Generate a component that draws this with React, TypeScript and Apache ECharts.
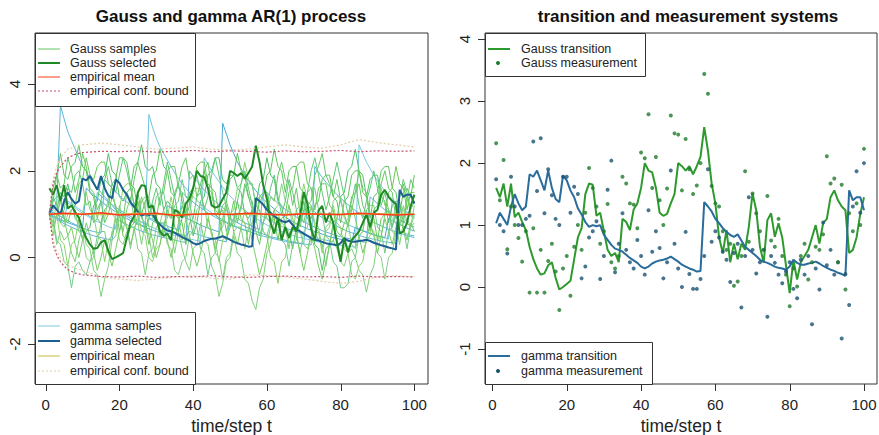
import React, { useEffect, useRef } from "react";
import * as echarts from "echarts";

// ---------- data ----------
const steps = Array.from({ length: 100 }, (_, i) => i + 1);
const boundSteps = [1, 2, 3, 4, 5, 6, 8, 10, 15, 20, 25, 30, 35, 40, 45, 50, 55, 60, 65, 70, 75, 80, 85, 90, 95, 100];
const meanSteps = [1, 5, 10, 15, 20, 25, 30, 35, 40, 45, 50, 55, 60, 65, 70, 75, 80, 85, 90, 95, 100];
const xTicks = [0, 20, 40, 60, 80, 100];
const yTicksLeft = [-2, 0, 2, 4];
const yTicksRight = [-1, 0, 1, 2, 3, 4];

const gaussTransition = [
  1.60, 1.45, 1.67, 1.30, 1.67, 1.13, 1.20, 1.05, 0.92, 0.65,
  0.45, 0.30, 0.20, 0.22, 0.35, 0.40, 0.15, -0.04, 0.00, 0.05,
  0.10, 0.45, 0.80, 0.95, 1.50, 1.67, 1.65, 1.15, 1.20, 0.90,
  0.60, 0.50, 0.55, 0.40, 1.10, 1.05, 0.92, 1.25, 1.35, 1.60,
  2.00, 1.88, 1.85, 1.60, 1.20, 1.15, 1.18, 1.35, 1.50, 2.00,
  1.95, 1.88, 1.95, 1.82, 1.95, 2.10, 2.58, 2.20, 1.67, 1.35,
  0.80, 0.55, 0.92, 0.40, 0.70, 0.45, 0.70, 0.60, 0.97, 1.51,
  1.24, 0.65, 0.39, 1.08, 1.19, 0.81, 1.03, 0.80, 0.35, -0.10,
  0.44, 0.12, 0.40, 0.50, 0.60, 0.80, 1.00, 0.70, 1.03, 1.10,
  1.45, 1.56, 1.40, 1.30, 1.24, 0.55, 0.60, 0.80, 1.18, 1.45,
];
const gammaTransition = [
  1.03, 1.20, 1.10, 1.00, 1.30, 1.50, 1.35, 1.24, 1.30, 1.82,
  1.78, 1.88, 1.72, 1.56, 1.88, 1.60, 1.42, 1.37, 1.80, 1.72,
  1.56, 1.45, 1.27, 1.17, 1.05, 0.97, 1.00, 0.98, 1.00, 0.84,
  0.76, 0.68, 0.62, 0.60, 0.57, 0.52, 0.47, 0.43, 0.39, 0.33,
  0.30, 0.33, 0.38, 0.41, 0.43, 0.44, 0.46, 0.49, 0.45, 0.41,
  0.36, 0.33, 0.30, 0.28, 0.25, 0.26, 1.37, 1.30, 1.22, 1.10,
  1.03, 0.95, 0.89, 0.84, 0.81, 0.85, 0.75, 0.65, 0.60, 0.55,
  0.50, 0.44, 0.41, 0.39, 0.36, 0.33, 0.31, 0.30, 0.28, 0.33,
  0.44, 0.39, 0.36, 0.36, 0.38, 0.39, 0.41, 0.38, 0.34, 0.31,
  0.28, 0.26, 0.23, 0.21, 0.18, 1.56, 1.40, 1.45, 1.45, 1.24,
];
const gaussMeasurement = [
  2.32, 1.40, 2.05, 0.61, 1.30, 1.00, 0.79, 0.41, 0.90, -0.09,
  0.95, -0.09, 0.60, -0.09, 0.42, 0.70, 0.25, -0.37, 0.30, 0.50,
  -0.14, 0.65, 1.00, 0.60, 1.20, 1.92, 1.60, 1.30, 0.70, 0.90,
  1.34, 0.40, 0.30, 0.50, 1.78, 1.67, 1.35, 1.33, 0.95, 2.17,
  2.08, 2.79, 1.60, 2.10, 1.40, 1.00, 1.59, 2.77, 2.48, 2.46,
  1.56, 2.39, 1.90, 1.50, 1.64, 2.00, 3.44, 3.12, 1.63, 1.35,
  1.30, 0.90, 0.60, 0.70, 0.02, 0.09, 0.50, 1.87, 0.73, 1.51,
  1.19, 0.90, 0.60, 1.47, 0.75, 0.65, 1.10, 0.50, 0.20, -0.31,
  0.30, 0.01, 0.50, 0.70, 0.12, 0.40, 0.65, 0.60, 0.85, 2.11,
  1.67, 1.75, 0.40, 1.65, -0.04, 1.19, 0.90, 1.35, 1.00, 2.23,
];
const gammaMeasurement = [
  1.74, 1.00, 0.90, 0.54, 1.78, 1.30, 1.00, 1.00, 1.10, 1.15,
  2.35, 1.55, 2.40, 1.19, 1.90, 1.48, 1.10, 1.00, 1.78, 1.78,
  1.20, 1.62, 1.50, 0.14, 0.33, 0.80, 0.90, 1.06, 0.13, 0.50,
  1.57, 2.04, 0.24, 0.70, 1.19, 0.60, 0.40, 0.30, 0.76, 0.50,
  0.20, 1.24, 0.57, 0.90, 0.63, 0.14, 0.40, 1.88, 0.70, 0.30,
  0.00, 0.89, 0.21, -0.03, -0.03, 0.13, 0.50, 1.90, 0.73, 0.90,
  0.80, 0.57, 0.44, 0.08, 0.55, 0.70, -0.33, 0.50, 1.45, 0.60,
  0.22, 0.40, 0.60, -0.48, 0.50, 0.39, 0.20, 0.06, 0.25, 0.40,
  -0.03, -0.18, 0.44, 0.20, 0.50, -0.60, 0.30, -0.04, 1.04, 0.35,
  0.60, 0.20, 0.40, -0.83, 0.21, -0.29, 1.30, 1.87, 1.20, 2.00,
];

const gaussSample1 = [
  1.0, 1.3, 1.9, 1.6, 1.7, 2.3, 2.0, 1.5, 1.8, 2.4, 2.1, 1.6, 1.5, 1.1, 1.3, 0.8, 1.0, 1.4, 1.2, 0.6,
  0.9, 1.5, 1.3, 1.8, 2.2, 1.9, 1.6, 1.0, 1.2, 0.9, 0.5, 0.7, 1.1, 0.9, 1.5, 1.7, 2.1, 2.3, 1.8, 1.9,
  1.4, 1.7, 2.0, 2.2, 1.6, 1.5, 1.0, 1.1, 0.6, 0.9, 1.3, 0.8, 1.2, 1.7, 1.4, 1.1, 0.6, 0.3, 0.8, 1.0,
  1.4, 1.3, 1.9, 2.2, 1.8, 1.7, 1.2, 1.6, 1.0, 0.8, 1.2, 1.3, 1.9, 2.1, 2.4, 1.9, 1.7, 1.4, 1.8, 1.3,
  1.0, 0.7, 1.1, 1.5, 1.7, 1.2, 1.0, 0.6, 1.1, 1.2, 1.7, 2.0, 1.6, 1.5, 0.9, 1.4, 1.7, 1.3, 1.8, 1.6,
];
const gaussSample2 = [
  1.0, 0.8, 0.3, 0.6, 0.4, 0.5, 0.1, -0.1, 0.4, 0.7, 0.3, 0.2, -0.3, -0.4, -0.9, -0.5, -0.2, 0.4, 0.5, 1.0,
  0.6, 1.1, 1.4, 0.9, 0.8, 0.3, 0.8, 0.5, 0.0, 0.3, 0.8, 1.1, 0.7, 0.6, 0.1, 0.6, 0.2, -0.1, -0.3, 0.2,
  0.3, 0.8, 0.4, 0.3, -0.2, -0.4, -0.9, -0.6, -0.1, 0.0, 0.5, 0.1, 0.0, -0.5, -0.6, -1.0, -1.2, -0.7, -0.5, 0.1,
  0.3, 0.9, 1.0, 0.8, 0.7, 0.2, 0.7, 0.8, 0.6, 0.3, 0.2, 0.5, 0.6, 0.4, 0.3, -0.2, 0.3, 0.4, 0.2, -0.1,
  -0.2, 0.1, 0.2, 0.0, -0.3, -0.4, -0.8, -0.4, -0.2, 0.4, 0.5, 1.0, 1.1, 0.9, 0.8, 0.3, 0.8, 0.9, 0.7, 1.2,
];
const gaussSample3 = [
  1.0, 1.2, 1.1, 1.5, 1.4, 1.7, 1.3, 0.9, 0.8, 0.4, 0.6, 0.7, 1.2, 1.3, 1.8, 1.9, 2.4, 2.0, 1.9, 1.4,
  1.3, 1.5, 1.6, 2.1, 2.2, 2.6, 2.1, 2.0, 2.1, 1.7, 1.6, 1.1, 1.3, 1.2, 0.7, 0.6, 0.9, 1.0, 1.0, 0.5,
  0.8, 1.3, 1.4, 1.9, 2.0, 2.3, 2.3, 1.8, 1.7, 1.9, 1.9, 1.6, 1.5, 1.0, 0.9, 1.1, 1.2, 1.7, 1.8, 2.3,
  1.9, 1.8, 1.3, 1.2, 0.7, 0.6, 0.2, 0.7, 0.8, 1.3, 0.9, 0.8, 0.3, 0.2, -0.3, 0.2, 0.3, 0.8, 0.9, 1.4,
  1.5, 2.0, 2.1, 2.5, 2.0, 1.9, 1.4, 1.8, 1.9, 1.9, 1.4, 1.3, 0.8, 1.2, 1.3, 1.3, 0.8, 1.3, 1.4, 1.4,
];
const gaussSample4 = [
  1.0, 0.5, 1.0, 0.4, 0.3, -0.2, 0.3, 0.4, 0.9, 1.0, 1.5, 1.1, 1.0, 0.5, 0.4, -0.1, 0.4, 0.5, 1.0, 1.1,
  1.6, 1.7, 1.7, 1.2, 1.1, 0.6, 0.5, 0.0, -0.1, 0.2, 0.3, 0.8, 0.9, 1.4, 1.0, 0.9, 0.4, 0.9, 1.0, 1.5,
  1.6, 1.6, 1.1, 1.0, 0.5, 0.4, -0.1, 0.4, 0.5, 1.0, 1.1, 1.6, 1.7, 2.2, 1.8, 1.7, 1.2, 1.1, 0.6, 0.5,
  0.0, -0.1, -0.6, -0.1, 0.0, 0.5, 0.6, 1.1, 1.2, 1.7, 1.3, 1.2, 0.7, 0.6, 0.1, 0.6, 0.7, 1.2, 0.8, 0.7,
  0.2, 0.1, -0.4, -0.5, -0.2, -0.1, 0.4, 0.5, 1.0, 1.1, 1.6, 1.2, 1.1, 0.6, 0.5, 0.8, 0.9, 1.4, 1.0, 0.9,
];
const gaussSample5 = [
  1.0, 1.6, 1.9, 2.4, 1.9, 1.8, 2.1, 2.2, 2.6, 2.1, 2.0, 1.5, 1.4, 0.9, 0.8, 1.1, 1.2, 1.7, 1.8, 2.3,
  2.3, 2.2, 1.7, 1.6, 1.1, 1.0, 1.3, 1.4, 1.9, 2.0, 2.5, 2.1, 2.0, 1.5, 1.4, 0.9, 0.8, 0.3, 0.8, 0.9,
  1.4, 1.5, 2.0, 1.6, 1.5, 1.0, 0.9, 1.2, 1.3, 1.8, 1.9, 2.4, 2.0, 1.9, 1.4, 1.3, 0.8, 1.3, 1.4, 1.9,
  2.0, 2.5, 2.1, 2.0, 1.5, 2.0, 2.1, 2.1, 1.6, 1.5, 1.0, 0.9, 1.2, 1.3, 1.8, 1.9, 1.9, 1.4, 1.3, 0.8,
  1.3, 1.4, 1.9, 2.0, 2.0, 1.5, 1.4, 0.9, 1.4, 1.5, 2.0, 2.1, 2.1, 1.6, 1.5, 1.0, 1.5, 1.6, 1.4, 1.9,
];
const gaussSample6 = [
  1.0, 0.9, 0.4, 0.3, -0.1, -0.2, -0.7, -0.2, -0.1, -0.3, -0.4, -0.1, 0.0, 0.5, 0.6, 0.6, 0.1, 0.6, 0.7, 1.2,
  0.8, 0.7, 0.2, 0.7, 0.8, 1.3, 1.4, 1.4, 0.9, 1.4, 1.5, 1.5, 1.0, 0.9, 1.2, 1.3, 1.8, 1.4, 1.3, 0.8,
  0.7, 0.2, 0.1, -0.4, 0.0, 0.1, 0.6, 0.7, 1.2, 0.8, 0.7, 1.0, 1.1, 1.6, 1.7, 1.7, 1.2, 1.1, 0.6, 0.5,
  0.8, 0.9, 0.9, 0.4, 0.3, -0.2, 0.3, 0.4, 0.9, 1.0, 1.5, 1.6, 1.6, 1.1, 1.0, 0.5, 0.4, -0.1, -0.2, -0.7,
  -0.7, -0.6, -0.1, 0.0, 0.5, 0.6, 1.1, 1.2, 1.2, 0.7, 0.6, 0.1, 0.6, 0.7, 1.2, 0.8, 0.7, 0.2, 0.7, 0.8,
];
const gaussSample7 = [
  1.0, 1.3, 1.4, 1.4, 0.9, 0.8, 1.1, 1.2, 1.7, 1.8, 2.3, 1.9, 1.8, 2.1, 2.2, 2.2, 1.7, 1.6, 1.1, 1.0,
  0.5, 0.4, 0.7, 0.8, 1.3, 0.9, 0.8, 0.3, 0.8, 0.9, 1.4, 1.5, 2.0, 2.1, 2.1, 1.6, 1.5, 1.0, 1.5, 1.6,
  2.1, 2.2, 2.2, 1.7, 1.6, 1.1, 1.0, 0.5, 0.4, 0.7, 0.8, 1.3, 0.9, 0.8, 0.3, 0.8, 0.9, 1.4, 1.5, 1.5,
  1.0, 0.9, 0.4, 0.9, 1.0, 1.5, 1.6, 2.1, 2.2, 2.2, 1.7, 1.6, 1.1, 1.6, 1.7, 1.7, 1.2, 1.1, 0.6, 0.5,
  0.8, 0.9, 1.4, 1.5, 2.0, 1.6, 1.5, 1.0, 0.9, 0.4, 0.9, 1.0, 1.5, 1.6, 2.1, 1.7, 1.6, 1.1, 1.5, 1.5,
];
const gaussSample8 = [
  1.0, 0.8, 1.3, 0.8, 0.7, 1.0, 1.1, 1.1, 0.6, 0.5, 0.0, -0.1, 0.2, 0.3, 0.8, 0.9, 1.4, 1.0, 0.9, 0.4,
  0.3, 0.6, 0.7, 0.7, 0.2, 0.1, -0.4, 0.1, 0.2, 0.7, 0.8, 0.8, 0.3, 0.2, -0.3, -0.4, -0.1, 0.0, 0.5, 0.6,
  1.1, 1.2, 1.2, 0.7, 0.6, 0.1, 0.0, -0.5, 0.0, 0.1, 0.6, 0.7, 0.7, 0.2, 0.7, 0.8, 1.3, 1.4, 1.4, 0.9,
  0.8, 1.1, 1.2, 1.7, 1.3, 1.2, 0.7, 0.6, 0.1, 0.6, 0.7, 1.2, 0.8, 0.7, 0.2, 0.7, 0.8, 1.3, 1.4, 1.4,
  0.9, 0.8, 0.3, 0.2, 0.5, 0.6, 1.1, 0.7, 0.6, 0.1, 0.0, -0.5, 0.0, 0.1, 0.6, 0.7, 1.2, 0.8, 0.7, 1.0,
];
const gaussSample9 = [
  1.0, 1.4, 1.2, 0.8, 1.1, 1.6, 1.5, 1.9, 2.0, 1.7, 1.2, 1.3, 0.8, 0.9, 1.3, 1.8, 2.1, 1.7, 1.5, 1.9,
  2.3, 2.0, 1.6, 1.2, 1.5, 1.0, 0.6, 0.9, 1.3, 1.6, 1.2, 1.7, 2.2, 1.8, 1.4, 1.7, 1.3, 0.9, 1.2, 1.6,
  1.9, 1.5, 1.1, 1.4, 1.9, 2.3, 1.9, 1.5, 1.2, 0.7, 0.9, 1.3, 1.7, 2.0, 1.6, 1.2, 0.9, 0.5, 0.8, 1.2,
  1.6, 1.9, 1.4, 1.0, 1.3, 1.8, 1.5, 1.1, 0.7, 1.1, 1.5, 2.0, 2.3, 1.9, 1.5, 1.1, 1.4, 1.8, 2.2, 1.8,
  1.4, 1.0, 1.3, 1.7, 1.2, 0.9, 1.3, 1.6, 2.0, 1.6, 1.2, 1.5, 1.1, 0.7, 1.0, 1.4, 1.8, 1.5, 1.1, 1.3,
];
const gaussSample10 = [
  1.0, 0.7, 1.0, 1.3, 0.9, 0.5, 0.7, 0.3, 0.0, 0.4, 0.8, 0.5, 0.1, -0.3, 0.0, 0.4, 0.1, -0.2, 0.2, 0.6,
  1.0, 0.7, 0.3, 0.6, 1.0, 1.4, 1.1, 0.7, 0.4, 0.0, 0.3, 0.7, 0.4, 0.0, 0.4, 0.8, 1.2, 0.9, 0.5, 0.1,
  -0.2, 0.1, 0.5, 0.9, 0.6, 0.2, 0.5, 0.9, 1.3, 1.0, 0.6, 0.3, 0.7, 1.1, 0.8, 0.4, 0.0, -0.4, -0.1, 0.3,
  0.7, 1.1, 0.8, 0.4, 0.8, 1.2, 0.9, 0.5, 0.1, -0.3, 0.1, 0.5, 0.2, -0.2, -0.5, -0.1, 0.3, 0.7, 0.4, 0.0,
  0.4, 0.8, 1.2, 0.9, 0.5, 0.1, 0.4, 0.8, 0.5, 0.1, 0.5, 0.9, 0.6, 0.3, 0.7, 1.0, 0.7, 0.4, 0.8, 0.6,
];

const gammaSample1 = [
  1.00, 1.10, 1.30, 3.50, 3.20, 2.90, 2.70, 2.50, 2.30, 2.10, 2.00, 1.80, 1.70, 1.60, 1.50, 1.40, 1.30, 1.20, 1.10, 1.05,
  1.00, 0.95, 0.90, 0.85, 0.80, 0.75, 0.70, 0.90, 0.85, 0.80, 0.75, 0.70, 0.66, 0.62, 0.58, 0.55, 0.52, 0.49, 0.60, 0.57,
  0.54, 0.51, 0.48, 0.46, 0.44, 0.42, 0.40, 0.38, 0.36, 0.90, 0.85, 0.80, 0.76, 0.72, 0.68, 0.64, 0.60, 0.57, 0.54, 0.51,
  0.48, 0.46, 0.44, 0.42, 0.40, 0.38, 0.36, 0.34, 0.33, 0.32, 1.20, 1.12, 1.05, 0.98, 0.92, 0.87, 0.82, 0.77, 0.72, 0.68,
  0.64, 0.60, 0.57, 0.54, 0.51, 0.48, 0.46, 0.44, 0.42, 0.40, 0.38, 0.36, 0.35, 0.34, 0.33, 0.60, 0.57, 0.54, 0.51, 0.50,
];
const gammaSample2 = [
  1.00, 0.95, 0.90, 0.86, 0.82, 1.30, 1.24, 1.18, 1.12, 1.06, 1.00, 0.95, 0.90, 1.50, 1.42, 1.35, 1.28, 1.22, 1.16, 1.10,
  1.04, 0.99, 0.94, 0.90, 0.86, 0.82, 0.78, 3.30, 3.00, 2.75, 2.55, 2.40, 2.25, 2.10, 1.95, 1.82, 1.70, 1.60, 1.50, 1.40,
  1.32, 1.24, 1.16, 1.09, 1.03, 0.97, 0.92, 0.87, 0.82, 0.78, 0.74, 0.70, 0.66, 0.63, 0.60, 1.10, 1.04, 0.99, 0.94, 0.89,
  0.84, 0.80, 0.76, 0.72, 0.68, 0.65, 0.62, 0.59, 0.56, 0.53, 0.50, 0.48, 0.46, 0.44, 0.42, 0.40, 0.38, 0.36, 0.90, 0.85,
  0.80, 0.76, 0.72, 0.68, 0.64, 0.61, 0.58, 0.55, 0.52, 0.49, 0.47, 0.45, 0.43, 1.30, 1.22, 1.15, 1.08, 1.02, 0.96, 0.91,
];
const gammaSample3 = [
  1.00, 1.05, 1.00, 0.95, 0.90, 0.85, 0.80, 0.76, 0.72, 0.68, 1.60, 1.52, 1.44, 1.37, 1.30, 1.23, 1.17, 1.11, 1.05, 1.00,
  0.95, 0.90, 0.85, 0.81, 0.77, 0.73, 0.69, 0.66, 0.63, 0.60, 0.57, 0.54, 1.20, 1.14, 1.08, 1.02, 0.97, 0.92, 0.87, 0.83,
  0.79, 0.75, 0.71, 0.68, 0.65, 0.62, 0.59, 3.10, 2.85, 2.60, 2.40, 2.20, 2.05, 1.90, 1.77, 1.65, 1.54, 1.44, 1.35, 1.27,
  1.19, 1.12, 1.05, 0.99, 0.93, 0.88, 0.83, 0.78, 0.74, 0.70, 0.66, 0.63, 0.60, 0.57, 0.54, 0.51, 0.48, 0.46, 0.44, 0.42,
  0.40, 0.38, 0.36, 0.70, 0.66, 0.62, 0.59, 0.56, 0.53, 0.50, 0.48, 0.46, 0.90, 0.85, 0.80, 0.76, 0.72, 0.68, 0.64, 0.61,
];
const gammaSample4 = [
  1.00, 0.95, 0.90, 1.40, 1.33, 1.26, 1.20, 1.14, 1.08, 1.02, 0.97, 0.92, 0.87, 0.83, 0.79, 0.75, 0.71, 0.68, 0.65, 1.10,
  1.05, 1.00, 0.95, 0.90, 0.85, 0.81, 0.77, 0.73, 0.69, 0.66, 0.63, 0.60, 0.57, 0.54, 0.51, 0.49, 0.47, 0.45, 0.43, 0.41,
  0.39, 0.37, 2.30, 2.15, 2.00, 1.87, 1.75, 1.63, 1.52, 1.42, 1.33, 1.24, 1.16, 1.09, 1.02, 0.96, 0.90, 0.85, 0.80, 0.75,
  0.71, 0.67, 0.63, 0.60, 0.57, 0.54, 0.51, 0.48, 0.46, 0.44, 0.42, 0.40, 0.38, 0.36, 0.34, 0.32, 0.31, 0.30, 0.29, 0.28,
  0.27, 0.26, 0.25, 0.24, 2.60, 2.40, 2.20, 2.05, 1.90, 1.77, 1.65, 1.54, 1.44, 1.35, 1.27, 1.19, 1.12, 1.05, 0.99, 0.93,
];
const gammaSample5 = [
  1.00, 0.96, 0.92, 0.88, 0.84, 0.80, 0.77, 0.74, 0.71, 0.68, 0.65, 0.62, 0.60, 0.58, 0.56, 1.80, 1.70, 1.60, 1.51, 1.43,
  1.35, 1.28, 1.21, 1.15, 1.09, 1.03, 0.98, 0.93, 0.88, 0.84, 0.80, 0.76, 0.72, 0.69, 0.66, 0.63, 1.50, 1.42, 1.35, 1.28,
  1.21, 1.15, 1.09, 1.03, 0.98, 0.93, 0.88, 0.84, 0.80, 0.76, 0.72, 0.69, 0.66, 0.63, 0.60, 0.57, 0.54, 0.51, 0.49, 0.47,
  0.45, 0.43, 0.41, 0.39, 0.37, 0.35, 0.34, 0.33, 0.32, 0.31, 0.30, 0.29, 2.10, 1.97, 1.85, 1.74, 1.64, 1.54, 1.45, 1.37,
  1.29, 1.22, 1.15, 1.08, 1.02, 0.96, 0.91, 0.86, 0.81, 0.77, 0.73, 0.69, 0.65, 0.62, 0.59, 0.56, 0.53, 0.50, 0.48, 0.46,
];
const gammaSample6 = [
  1.00, 0.94, 0.88, 0.83, 0.78, 0.74, 0.70, 0.66, 0.62, 0.59, 0.56, 0.53, 0.50, 0.48, 0.46, 0.44, 0.42, 0.40, 0.90, 0.85,
  0.80, 0.76, 0.72, 0.68, 0.64, 0.61, 0.58, 0.55, 0.52, 0.50, 0.48, 0.46, 0.44, 0.42, 0.40, 0.38, 0.36, 0.35, 2.00, 1.88,
  1.77, 1.66, 1.56, 1.47, 1.38, 1.30, 1.22, 1.15, 1.08, 1.02, 0.96, 0.90, 0.85, 0.80, 0.76, 0.72, 0.68, 0.64, 1.60, 1.50,
  1.41, 1.33, 1.25, 1.18, 1.11, 1.05, 0.99, 0.93, 0.88, 0.83, 0.78, 0.74, 0.70, 0.66, 0.62, 0.59, 0.56, 0.53, 0.50, 0.48,
  0.46, 0.44, 0.42, 0.40, 0.38, 0.36, 0.35, 1.40, 1.32, 1.24, 1.17, 1.10, 1.04, 0.98, 0.92, 0.87, 0.82, 0.78, 0.74, 0.70,
];

const gaussMean = [1.0, 1.02, 1.0, 1.03, 0.98, 1.0, 1.02, 0.97, 1.0, 1.01, 0.99, 1.02, 1.0, 0.98, 1.01, 1.0, 0.99, 1.02, 1.0, 0.98, 1.0];
const gammaMean = [1.0, 1.01, 1.0, 0.99, 1.0, 1.02, 1.0, 0.99, 1.0, 1.01, 1.0, 1.0, 0.99, 1.0, 1.01, 1.0, 0.99, 1.0, 1.01, 1.0, 1.0];
const gaussUpper = [1.0, 1.7, 1.95, 2.1, 2.2, 2.3, 2.38, 2.42, 2.45, 2.44, 2.46, 2.43, 2.45, 2.47, 2.44, 2.46, 2.45, 2.43, 2.46, 2.44, 2.45, 2.47, 2.44, 2.46, 2.45, 2.46];
const gaussLower = [1.0, 0.3, 0.05, -0.1, -0.2, -0.28, -0.36, -0.4, -0.44, -0.45, -0.43, -0.46, -0.44, -0.45, -0.42, -0.45, -0.46, -0.44, -0.43, -0.45, -0.44, -0.46, -0.43, -0.45, -0.44, -0.45];
const gammaUpper = [1.0, 1.8, 2.1, 2.3, 2.4, 2.5, 2.55, 2.6, 2.64, 2.6, 2.55, 2.5, 2.52, 2.55, 2.5, 2.48, 2.5, 2.55, 2.6, 2.55, 2.52, 2.6, 2.72, 2.65, 2.6, 2.55];
const gammaLower = [1.0, 0.4, 0.15, 0.0, -0.1, -0.18, -0.25, -0.3, -0.45, -0.5, -0.53, -0.5, -0.45, -0.42, -0.48, -0.5, -0.4, -0.42, -0.45, -0.5, -0.55, -0.6, -0.55, -0.45, -0.42, -0.45];

const gaussSamples = [gaussSample1, gaussSample2, gaussSample3, gaussSample4, gaussSample5, gaussSample6, gaussSample7, gaussSample8, gaussSample9, gaussSample10];
const gammaSamples = [gammaSample1, gammaSample2, gammaSample3, gammaSample4, gammaSample5, gammaSample6];

const titles = ["Gauss and gamma AR(1) process", "transition and measurement systems"];
const xAxisTitle = "time/step t";
const legendLeftTop = ["Gauss samples", "Gauss selected", "empirical mean", "empirical conf. bound"];
const legendLeftBottom = ["gamma samples", "gamma selected", "empirical mean", "empirical conf. bound"];
const legendRightTop = ["Gauss transition", "Gauss measurement"];
const legendRightBottom = ["gamma transition", "gamma measurement"];

// ---------- styles ----------
const FONT = "'Liberation Sans', Arial, Helvetica, sans-serif";
const C = {
  gaussSamples: ["#66c766", "#7ed07a", "#4fbf6a", "#8bd36b", "#5cc45c", "#72cc8a", "#69c957", "#84d084", "#5ec878", "#78cc64"],
  gammaSamples: ["#5bb5d9", "#6cc2de", "#4aa8d0", "#7cc8e0", "#58b8d4", "#66b0dc"],
  gaussSel: "#1f8a25",
  gammaSel: "#1d5f92",
  gaussMean: "#ff3a1a",
  gammaMean: "#c9bd45",
  gaussBound: "#c0506e",
  gammaBound: "#e2cfa8",
  gaussTrans: "#2e9a2e",
  gammaTrans: "#2a6c9c",
  gaussMeas: "#1f7a2c",
  gammaMeas: "#1a5272",
  axis: "#333",
  text: "#222",
};

// axis ranges (R-style 4% padding)
const X_RANGE: [number, number][] = [[-2.9, 103.7], [-2, 103.5]];
const Y_RANGE: [number, number][] = [[-2.92, 5.18], [-1.565, 4.1]];
const Y_TICKS = [yTicksLeft, yTicksRight];
const TICK_LEN = 7;

const pair = (xs: number[], ys: number[]) => ys.map((v, i) => [xs[i], v]);

function buildLegendGraphics() {
  const g: any[] = [];
  const box = (x: number, y: number, w: number, h: number) =>
    g.push({
      type: "rect", shape: { x: x + 0.5, y: y + 0.5, width: w, height: h },
      style: { fill: "#fff", stroke: C.axis, lineWidth: 1 }, z: 100,
    });
  const lineItem = (x: number, y: number, color: string, width: number, dash?: number[]) =>
    g.push({
      type: "line", shape: { x1: x, y1: y, x2: x + 22, y2: y },
      style: { stroke: color, lineWidth: width, lineDash: dash || null }, z: 101,
    });
  const dotItem = (x: number, y: number, color: string) =>
    g.push({ type: "circle", shape: { cx: x, cy: y, r: 2 }, style: { fill: color }, z: 101 });
  const textItem = (x: number, y: number, text: string) =>
    g.push({
      type: "text", x, y,
      style: { text, fontSize: 12.5, fontFamily: FONT, fill: C.text, align: "left", verticalAlign: "middle" }, z: 101,
    });

  box(35, 33, 160, 73);
  const ltY = [49, 63, 77, 91];
  lineItem(38, ltY[0], C.gaussSamples[0], 1);
  lineItem(38, ltY[1], C.gaussSel, 2);
  lineItem(38, ltY[2], C.gaussMean, 1);
  lineItem(38, ltY[3], C.gaussBound, 1, [2, 2]);
  legendLeftTop.forEach((t, i) => textItem(70, ltY[i], t));

  box(35, 312, 160, 72);
  const lbY = [326, 341, 356, 371];
  lineItem(38, lbY[0], C.gammaSamples[3], 1);
  lineItem(38, lbY[1], C.gammaSel, 2);
  lineItem(38, lbY[2], C.gammaMean, 1);
  lineItem(38, lbY[3], C.gammaBound, 1, [2, 2]);
  legendLeftBottom.forEach((t, i) => textItem(70, lbY[i], t));

  box(485, 33, 160, 43);
  lineItem(488, 49, C.gaussTrans, 2);
  dotItem(498, 63, C.gaussMeas);
  legendRightTop.forEach((t, i) => textItem(521, [49, 63][i], t));

  box(485, 342, 167, 42);
  lineItem(488, 356, C.gammaTrans, 2);
  dotItem(498, 371, C.gammaMeas);
  legendRightBottom.forEach((t, i) => textItem(521, [356, 371][i], t));
  return g;
}

// outward R-style tick marks drawn through the axis scales
function tickSeries(g: number, dir: "x" | "y") {
  const data = dir === "x" ? xTicks.map((v) => [v, Y_RANGE[g][0]]) : Y_TICKS[g].map((v) => [X_RANGE[g][0], v]);
  return {
    type: "custom",
    xAxisIndex: g,
    yAxisIndex: g,
    data,
    silent: true,
    clip: false,
    z: 20,
    renderItem: (_params: any, api: any) => {
      const p = api.coord([api.value(0), api.value(1)]);
      if (dir === "x") {
        const x = Math.round(p[0]) + 0.5;
        return { type: "line", shape: { x1: x, y1: p[1], x2: x, y2: p[1] + TICK_LEN }, style: { stroke: C.axis, lineWidth: 1 } };
      }
      const y = Math.round(p[1]) + 0.5;
      return { type: "line", shape: { x1: p[0], y1: y, x2: p[0] - TICK_LEN, y2: y }, style: { stroke: C.axis, lineWidth: 1 } };
    },
  };
}

function buildOption() {
  const lineS = (data: number[][], color: string, width: number, extra: any = {}) => ({
    type: "line",
    xAxisIndex: 0,
    yAxisIndex: 0,
    data,
    symbol: "none",
    silent: true,
    lineStyle: { color, width, ...extra },
    z: 2,
  });

  const series: any[] = [];
  gammaSamples.forEach((s, i) => series.push(lineS(pair(steps, s), C.gammaSamples[i % C.gammaSamples.length], 1)));
  gaussSamples.forEach((s, i) => series.push(lineS(pair(steps, s), C.gaussSamples[i % C.gaussSamples.length], 1)));
  series.push(lineS(pair(steps, gammaTransition), C.gammaSel, 2));
  series.push(lineS(pair(steps, gaussTransition), C.gaussSel, 2));
  series.push(lineS(pair(meanSteps, gammaMean), C.gammaMean, 1.5));
  series.push(lineS(pair(meanSteps, gaussMean), C.gaussMean, 1.5));
  series.push(lineS(pair(boundSteps, gammaUpper), C.gammaBound, 1.2, { type: [2, 2] }));
  series.push(lineS(pair(boundSteps, gammaLower), C.gammaBound, 1.2, { type: [2, 2] }));
  series.push(lineS(pair(boundSteps, gaussUpper), C.gaussBound, 1.2, { type: [2, 2] }));
  series.push(lineS(pair(boundSteps, gaussLower), C.gaussBound, 1.2, { type: [2, 2] }));

  series.push({
    type: "line", xAxisIndex: 1, yAxisIndex: 1, data: pair(steps, gaussTransition), symbol: "none", silent: true,
    lineStyle: { color: C.gaussTrans, width: 2 }, z: 2,
  });
  series.push({
    type: "line", xAxisIndex: 1, yAxisIndex: 1, data: pair(steps, gammaTransition), symbol: "none", silent: true,
    lineStyle: { color: C.gammaTrans, width: 2 }, z: 2,
  });
  series.push({
    type: "scatter", xAxisIndex: 1, yAxisIndex: 1, data: pair(steps, gammaMeasurement), symbol: "circle", symbolSize: 4,
    silent: true, itemStyle: { color: C.gammaMeas }, z: 3,
  });
  series.push({
    type: "scatter", xAxisIndex: 1, yAxisIndex: 1, data: pair(steps, gaussMeasurement), symbol: "circle", symbolSize: 4,
    silent: true, itemStyle: { color: C.gaussMeas }, z: 3,
  });
  [0, 1].forEach((g) => {
    series.push(tickSeries(g, "x"));
    series.push(tickSeries(g, "y"));
  });

  const xAxisCommon = (gridIndex: number) => ({
    gridIndex,
    type: "value",
    position: "bottom",
    min: X_RANGE[gridIndex][0],
    max: X_RANGE[gridIndex][1],
    splitLine: { show: false },
    axisLine: { show: false, onZero: false },
    axisTick: { show: false },
    axisLabel: { customValues: xTicks, fontSize: 15, color: C.text, margin: 13, fontFamily: FONT },
    name: xAxisTitle,
    nameLocation: "middle",
    nameGap: 29,
    nameTextStyle: { fontSize: 17.5, color: C.text, fontFamily: FONT },
  });
  const yAxisCommon = (gridIndex: number) => ({
    gridIndex,
    type: "value",
    position: "left",
    min: Y_RANGE[gridIndex][0],
    max: Y_RANGE[gridIndex][1],
    splitLine: { show: false },
    axisLine: { show: false, onZero: false },
    axisTick: { show: false },
    axisLabel: { customValues: Y_TICKS[gridIndex], fontSize: 15, color: C.text, margin: 13, rotate: 90, fontFamily: FONT },
  });

  return {
    animation: false,
    backgroundColor: "#fff",
    textStyle: { fontFamily: FONT },
    title: [
      { text: titles[0], left: 231, top: 8, padding: 0, textAlign: "center", textStyle: { fontSize: 17, fontWeight: "bold", color: "#111", fontFamily: FONT } },
      { text: titles[1], left: 688, top: 8, padding: 0, textAlign: "center", textStyle: { fontSize: 17, fontWeight: "bold", color: "#111", fontFamily: FONT } },
    ],
    grid: [
      { left: 35, top: 33, width: 393, height: 351, show: true, borderColor: C.axis, borderWidth: 1, backgroundColor: "transparent", containLabel: false, outerBoundsMode: "none" },
      { left: 485, top: 33, width: 392, height: 351, show: true, borderColor: C.axis, borderWidth: 1, backgroundColor: "transparent", containLabel: false, outerBoundsMode: "none" },
    ],
    xAxis: [xAxisCommon(0), xAxisCommon(1)],
    yAxis: [yAxisCommon(0), yAxisCommon(1)],
    series,
    graphic: { elements: buildLegendGraphics() },
  };
}

export default function App() {
  const ref = useRef<HTMLDivElement>(null);
  useEffect(() => {
    if (!ref.current) return;
    const chart = echarts.init(ref.current, undefined, { renderer: "svg" });
    chart.setOption(buildOption() as any);
    return () => chart.dispose();
  }, []);
  return <div ref={ref} style={{ position: "fixed", left: 0, top: 0, width: 879, height: 435 }} />;
}
